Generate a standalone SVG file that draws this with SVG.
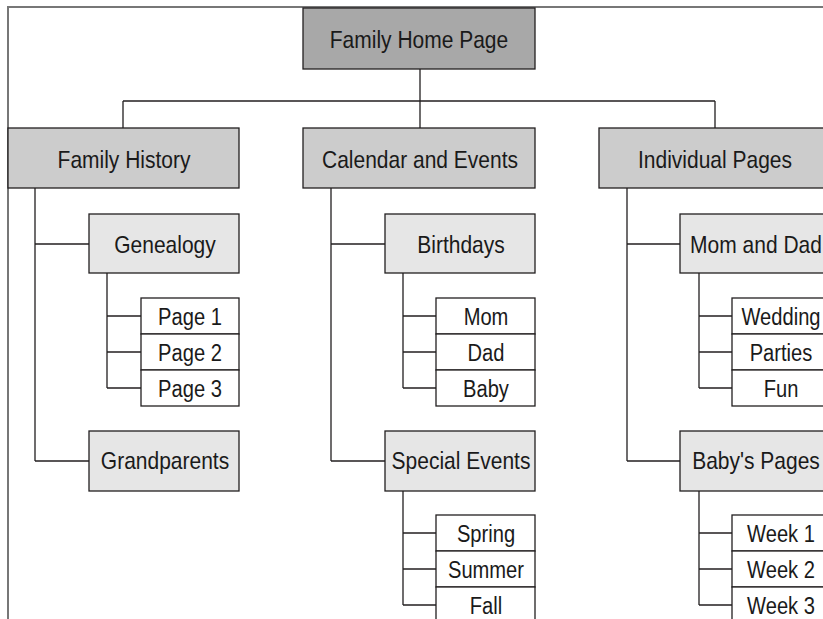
<svg xmlns="http://www.w3.org/2000/svg" width="823" height="619" viewBox="0 0 823 619">
<style>
.b{stroke:#231f20;stroke-width:1.3}
.l0{fill:#a8a8a8}
.l1{fill:#cccccc}
.l2{fill:#e6e6e6}
.l3{fill:#ffffff}
text{font-family:"Liberation Sans",Arial,sans-serif;font-size:24px;fill:#1a1a1a;text-anchor:middle}
.s{font-size:23px}
.c{fill:none;stroke:#231f20;stroke-width:1.3}
.frame{fill:none;stroke:#777777;stroke-width:2}
</style>
<path class="frame" d="M8,619 V7 H823"/>
<g id="connectors">
<path class="c" d="M420,69 V128 M123,101 H715 M123,101 V128 M715,101 V128"/>
<path class="c" d="M35,188 V461 M35,244 H89 M35,461 H89"/>
<path class="c" d="M107,273 V388 M107,316 H141 M107,352 H141 M107,388 H141"/>
<path class="c" d="M331,188 V461 M331,244 H385 M331,461 H385"/>
<path class="c" d="M403,273 V388 M403,316 H436 M403,352 H436 M403,388 H436"/>
<path class="c" d="M403,491 V605 M403,533 H436 M403,569 H436 M403,605 H436"/>
<path class="c" d="M627,188 V461 M627,244 H680 M627,461 H680"/>
<path class="c" d="M699,273 V388 M699,316 H732 M699,352 H732 M699,388 H732"/>
<path class="c" d="M699,491 V605 M699,533 H732 M699,569 H732 M699,605 H732"/>
</g>
<g id="home"><rect class="b l0" x="303" y="8" width="232" height="61"/><text transform="translate(419,48) scale(0.875,1)">Family Home Page</text></g>
<g id="history"><rect class="b l1" x="8" y="128" width="231" height="60"/><text transform="translate(124,168) scale(0.875,1)">Family History</text></g>
<g id="calendar"><rect class="b l1" x="303" y="128" width="232" height="60"/><text transform="translate(420,168) scale(0.875,1)">Calendar and Events</text></g>
<g id="individual"><rect class="b l1" x="599" y="128" width="232" height="60"/><text transform="translate(715,168) scale(0.875,1)">Individual Pages</text></g>
<g id="genealogy"><rect class="b l2" x="89" y="214" width="150" height="59"/><text transform="translate(165,253) scale(0.875,1)">Genealogy</text></g>
<g id="grandparents"><rect class="b l2" x="89" y="431" width="150" height="60"/><text transform="translate(165,469) scale(0.875,1)">Grandparents</text></g>
<g id="birthdays"><rect class="b l2" x="385" y="214" width="150" height="59"/><text transform="translate(461,253) scale(0.875,1)">Birthdays</text></g>
<g id="special"><rect class="b l2" x="385" y="431" width="150" height="60"/><text transform="translate(461,469) scale(0.875,1)">Special Events</text></g>
<g id="momdad"><rect class="b l2" x="680" y="214" width="151" height="59"/><text transform="translate(756,253) scale(0.875,1)">Mom and Dad</text></g>
<g id="babypages"><rect class="b l2" x="680" y="431" width="151" height="60"/><text transform="translate(756,469) scale(0.875,1)">Baby's Pages</text></g>
<g id="page1"><rect class="b l3" x="141" y="298" width="98" height="36"/><text class="s" transform="translate(190,325) scale(0.875,1)">Page 1</text></g>
<g id="page2"><rect class="b l3" x="141" y="334" width="98" height="36"/><text class="s" transform="translate(190,361) scale(0.875,1)">Page 2</text></g>
<g id="page3"><rect class="b l3" x="141" y="370" width="98" height="36"/><text class="s" transform="translate(190,397) scale(0.875,1)">Page 3</text></g>
<g id="mom"><rect class="b l3" x="436" y="298" width="99" height="36"/><text class="s" transform="translate(486,325) scale(0.875,1)">Mom</text></g>
<g id="dad"><rect class="b l3" x="436" y="334" width="99" height="36"/><text class="s" transform="translate(486,361) scale(0.875,1)">Dad</text></g>
<g id="baby"><rect class="b l3" x="436" y="370" width="99" height="36"/><text class="s" transform="translate(486,397) scale(0.875,1)">Baby</text></g>
<g id="spring"><rect class="b l3" x="436" y="515" width="99" height="36"/><text class="s" transform="translate(486,542) scale(0.875,1)">Spring</text></g>
<g id="summer"><rect class="b l3" x="436" y="551" width="99" height="36"/><text class="s" transform="translate(486,578) scale(0.875,1)">Summer</text></g>
<g id="fall"><rect class="b l3" x="436" y="587" width="99" height="36"/><text class="s" transform="translate(486,614) scale(0.875,1)">Fall</text></g>
<g id="wedding"><rect class="b l3" x="732" y="298" width="99" height="36"/><text class="s" transform="translate(781,325) scale(0.875,1)">Wedding</text></g>
<g id="parties"><rect class="b l3" x="732" y="334" width="99" height="36"/><text class="s" transform="translate(781,361) scale(0.875,1)">Parties</text></g>
<g id="fun"><rect class="b l3" x="732" y="370" width="99" height="36"/><text class="s" transform="translate(781,397) scale(0.875,1)">Fun</text></g>
<g id="week1"><rect class="b l3" x="732" y="515" width="99" height="36"/><text class="s" transform="translate(781,542) scale(0.875,1)">Week 1</text></g>
<g id="week2"><rect class="b l3" x="732" y="551" width="99" height="36"/><text class="s" transform="translate(781,578) scale(0.875,1)">Week 2</text></g>
<g id="week3"><rect class="b l3" x="732" y="587" width="99" height="36"/><text class="s" transform="translate(781,614) scale(0.875,1)">Week 3</text></g>
</svg>
